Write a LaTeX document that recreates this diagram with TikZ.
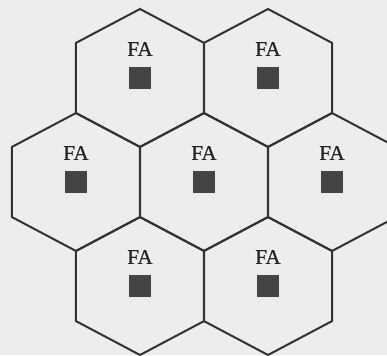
\documentclass[tikz,border=0pt]{standalone}
\usepackage{fontspec}
\setmainfont{Liberation Serif}
\newfontfamily\fafont[FakeBold=0.5]{Liberation Serif}
\definecolor{bggray}{HTML}{EDEDED}
\definecolor{linegray}{HTML}{333333}
\definecolor{textgray}{HTML}{222222}
\definecolor{sqgray}{HTML}{444444}
\begin{document}
\begin{tikzpicture}[x=1pt,y=-1pt,
  cell/.style={draw=linegray, line width=2pt, line join=miter},
  falabel/.style={font=\fafont\fontsize{21}{25}\selectfont, text=textgray, inner sep=0pt},
  station/.style={fill=sqgray, minimum size=22pt, inner sep=0pt}]
\fill[bggray] (0,0) rectangle (387,355);
\useasboundingbox (0,0) rectangle (387,355);
\clip (0,0) rectangle (387,355);
\foreach \n/\cx/\cy in {a/140/78, b/268/78, c/76/182, d/204/182, e/332/182, f/140/286, g/268/286}{
  \draw[cell] (\cx,\cy) ++(0,-69) -- ++(64.2,34) -- ++(0,70) -- ++(-64.2,34) -- ++(-64.2,-34) -- ++(0,-70) -- cycle;
  \node[station] (sq\n) at (\cx,\cy) {};
  \node[falabel] (fa\n) at (\cx,\cy-29) {FA};
}
\end{tikzpicture}
\end{document}
